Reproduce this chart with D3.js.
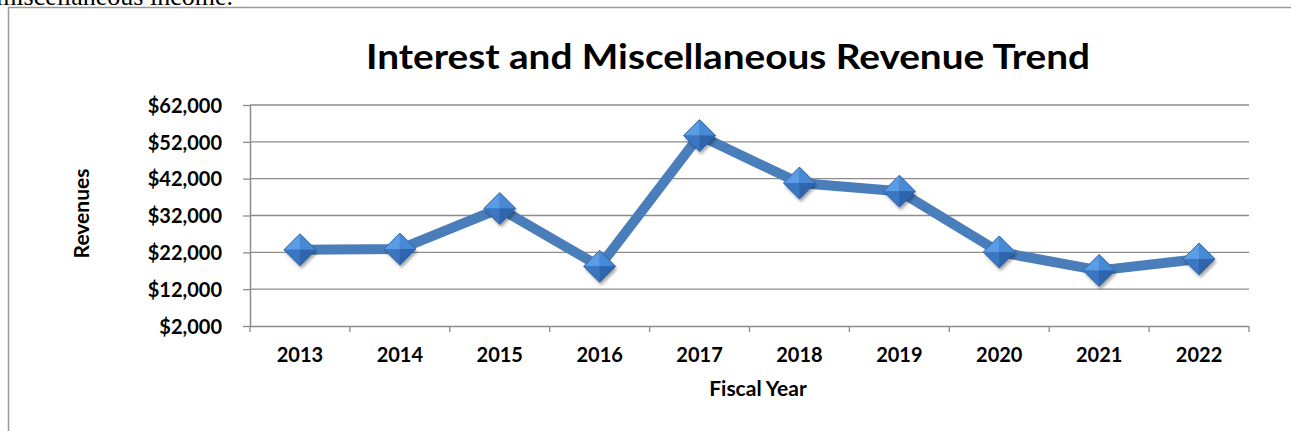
<!DOCTYPE html>
<html>
<head>
<meta charset="utf-8">
<script src="https://cdn.jsdelivr.net/npm/d3@7"></script>
<style>
  body { margin: 0; background: #fff; }
  svg { display: block; }
  text { font-family: Lato, "Open Sans", sans-serif; fill: #000; }
</style>
</head>
<body>
<svg id="chart" width="1291" height="431"></svg>
<script>
// Fiscal years on the category axis
const years = ["2013", "2014", "2015", "2016", "2017", "2018", "2019", "2020", "2021", "2022"];
// Interest and miscellaneous revenues per fiscal year
const revenues = [22700, 22900, 33900, 18200, 53700, 40800, 38600, 22100, 17100, 20200];
// Value axis ticks
const yTicks = [2000, 12000, 22000, 32000, 42000, 52000, 62000];

const svg = d3.select("#chart");

// Trailing line of the paragraph above the chart frame
svg.append("text")
  .attr("x", 233).attr("y", 5)
  .attr("text-anchor", "end")
  .style("font-family", "'Liberation Serif', 'Times New Roman', serif")
  .style("font-size", "26px")
  .text("miscellaneous income.");

// Chart frame
svg.append("rect")
  .attr("x", 8.5).attr("y", 7.5)
  .attr("width", 1300).attr("height", 500)
  .attr("fill", "none")
  .attr("stroke", "#9a9a9a")
  .attr("stroke-width", 1.5);

const defs = svg.append("defs");
const shadow = defs.append("filter").attr("id", "markerShadow")
  .attr("x", "-50%").attr("y", "-50%").attr("width", "200%").attr("height", "200%");
shadow.append("feDropShadow")
  .attr("dx", 1.5).attr("dy", 3).attr("stdDeviation", 1.8)
  .attr("flood-color", "#000").attr("flood-opacity", 0.35);

const plot = { left: 250, right: 1249, top: 105, bottom: 326 };

const x = d3.scaleBand().domain(years).range([plot.left, plot.right]);
const y = d3.scaleLinear().domain([2000, 62000]).range([plot.bottom, plot.top]);

// Title
svg.append("text")
  .attr("x", 728).attr("y", 69)
  .attr("text-anchor", "middle")
  .style("font-size", "35px").style("font-weight", 700)
  .attr("textLength", 724).attr("lengthAdjust", "spacingAndGlyphs")
  .text("Interest and Miscellaneous Revenue Trend");

// Horizontal gridlines
svg.append("g")
  .selectAll("line")
  .data(yTicks.slice(1))
  .join("line")
  .attr("x1", plot.left).attr("x2", plot.right)
  .attr("y1", d => y(d)).attr("y2", d => y(d))
  .attr("stroke", "#8c8c8c").attr("stroke-width", 1.3);

// Value axis
const yAxis = svg.append("g")
  .attr("transform", `translate(${plot.left},0)`)
  .call(d3.axisLeft(y).tickValues(yTicks).tickSize(7).tickPadding(0)
    .tickFormat(d => "$" + d3.format(",")(d)));
yAxis.select(".domain").attr("stroke", "#8c8c8c").attr("stroke-width", 1.5)
  .attr("d", `M0.5,${plot.top}V${plot.bottom}`);
yAxis.selectAll(".tick line").attr("stroke", "#8c8c8c").attr("stroke-width", 1.3);
yAxis.selectAll(".tick text")
  .attr("x", -28).attr("dy", "0.36em")
  .style("font-family", "Lato, 'Open Sans', sans-serif")
  .style("font-size", "20px").style("font-weight", 700).attr("fill", "#000");

// Category axis
const xAxis = svg.append("g")
  .attr("transform", `translate(0,${plot.bottom})`)
  .call(d3.axisBottom(x).tickSize(0));
xAxis.select(".domain").attr("stroke", "#8c8c8c").attr("stroke-width", 1.5)
  .attr("d", `M${plot.left},0.5H${plot.right}`);
xAxis.selectAll(".tick text")
  .attr("y", 36).attr("dy", 0)
  .style("font-family", "Lato, 'Open Sans', sans-serif")
  .style("font-size", "20px").style("font-weight", 700).attr("fill", "#000");
// Tick marks between categories
xAxis.append("g")
  .selectAll("line")
  .data(years.map(d => x(d)).concat([x(years[years.length - 1]) + x.bandwidth()]))
  .join("line")
  .attr("x1", d => d).attr("x2", d => d)
  .attr("y1", 0).attr("y2", 6)
  .attr("stroke", "#8c8c8c").attr("stroke-width", 1.3);

// Axis titles
svg.append("text")
  .attr("transform", "translate(89,213.5) rotate(-90)")
  .attr("text-anchor", "middle")
  .style("font-size", "21px").style("font-weight", 700)
  .text("Revenues");

svg.append("text")
  .attr("x", 758).attr("y", 396)
  .attr("text-anchor", "middle")
  .style("font-size", "21px").style("font-weight", 700)
  .text("Fiscal Year");

// Revenue line
const cx = d => x(d) + x.bandwidth() / 2;
svg.append("path")
  .datum(years.map((yr, i) => [cx(yr), y(revenues[i])]))
  .attr("d", d3.line())
  .attr("fill", "none")
  .attr("stroke", "#4a7ebb")
  .attr("stroke-width", 10)
  .attr("stroke-linejoin", "round");

// Bevelled diamond markers
const r = 16;
const facets = [
  { pts: [[0, -r], [0, 0], [-r, 0]], fill: "#5a9de4" },
  { pts: [[0, -r], [r, 0], [0, 0]], fill: "#4889d6" },
  { pts: [[-r, 0], [0, 0], [0, r]], fill: "#3a76c2" },
  { pts: [[0, 0], [r, 0], [0, r]], fill: "#2e65ad" }
];
const markers = svg.append("g")
  .selectAll("g")
  .data(years.map((yr, i) => ({ yr, v: revenues[i] })))
  .join("g")
  .attr("transform", d => `translate(${cx(d.yr)},${y(d.v)})`);
markers.append("path")
  .attr("d", `M0,${-r}L${r},0L0,${r}L${-r},0Z`)
  .attr("fill", "#3a76c2")
  .attr("filter", "url(#markerShadow)");
markers.selectAll("path.facet")
  .data(facets)
  .join("path")
  .attr("class", "facet")
  .attr("d", f => "M" + f.pts.map(p => p.join(",")).join("L") + "Z")
  .attr("fill", f => f.fill);
markers.append("path")
  .attr("d", `M0,${-r}L${r},0L0,${r}L${-r},0Z`)
  .attr("fill", "none")
  .attr("stroke", "#2c5e9e")
  .attr("stroke-width", 0.8);
</script>
</body>
</html>
